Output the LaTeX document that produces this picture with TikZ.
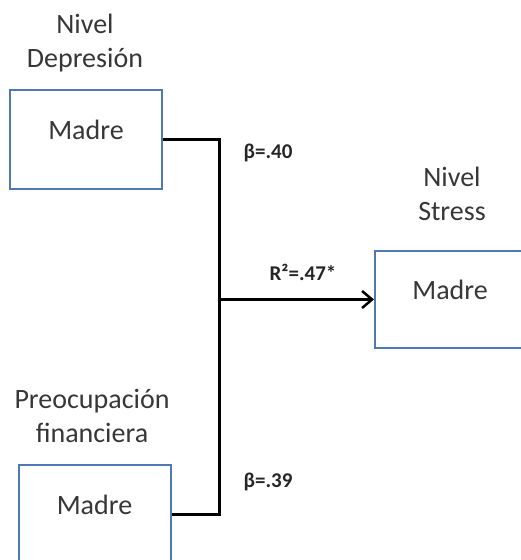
\documentclass[tikz,border=0pt]{standalone}
\usepackage{fontspec}
\setmainfont{Carlito}
\usetikzlibrary{arrows.meta}
\definecolor{boxblue}{RGB}{79,120,180}
\definecolor{txtgray}{RGB}{55,55,55}
\tikzset{
  varbox/.style={draw=boxblue, line width=2pt, fill=white, rectangle, inner sep=0pt,
    minimum width=152pt, minimum height=99pt, text height=20pt, text depth=20pt,
    font=\fontsize{28pt}{34pt}\selectfont, text=txtgray},
  title/.style={anchor=north, align=center, inner sep=0pt,
    font=\fontsize{28pt}{34pt}\selectfont, text=txtgray},
  coef/.style={inner sep=0pt, font=\fontsize{21pt}{25pt}\selectfont\bfseries, text=black!85},
  conn/.style={line width=3pt, black}
}
\begin{document}
\begin{tikzpicture}[x=1pt, y=-1pt]
\useasboundingbox (0,0) rectangle (521,560);
\clip (0,0) rectangle (521,560);
\node[varbox] (b1) at (86,139) {Madre};
\node[varbox] (b2) at (94.5,514.5) {Madre};
\node[varbox, minimum width=150pt, minimum height=97pt] (b3) at (450,299.5) {Madre};
\node[title] (t1) at (85,14) {Nivel\\Depresión};
\node[title] (t3) at (452,167) {Nivel\\Stress};
\node[title] (t2) at (92,389) {Preocupación\\financiera};
\coordinate (j) at (219,299.5);
\draw[conn, line join=miter] (b1.east) -| (j) |- (b2.east);
\draw[conn, -{Straight Barb[length=10pt, width=17pt, line width=2.5pt]}] (j) -- (b3.west);
\node[coef] (c1) at (268,153) {β=.40};
\node[coef] (c2) at (303,272) {R²=.47*};
\node[coef] (c3) at (268,482) {β=.39};
\end{tikzpicture}
\end{document}
